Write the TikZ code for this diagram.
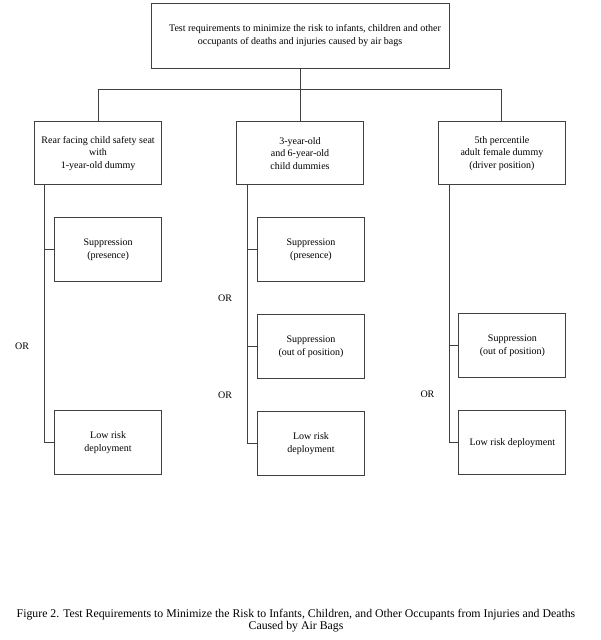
\documentclass[tikz,border=0pt]{standalone}
\usepackage{fontspec}
\setmainfont{Liberation Serif}
\usetikzlibrary{positioning, calc}

\begin{document}
\begin{tikzpicture}[x=1pt, y=1pt, node distance=32pt,
    box/.style={draw=black!75, line width=0.9pt, rectangle, align=center, inner sep=1pt, font=\fontsize{10}{12.5}\selectfont},
    goalbox/.style={box, minimum width=298pt, minimum height=65pt},
    groupbox/.style={box, minimum width=127pt, minimum height=63pt},
    testbox/.style={box, minimum width=107pt, minimum height=64pt},
    link/.style={draw=black!75, line width=0.9pt},
    orlabel/.style={font=\fontsize{10}{12}\selectfont}]
    \useasboundingbox (0,0) rectangle (600,-640);

    % --- GOAL (Top) ---
    \node (goal) [goalbox] at (300,-35.5) {\hspace*{10pt}Test requirements to minimize the risk to infants, children and other\\occupants of deaths and injuries caused by air bags};

    % --- DUMMY GROUPS ---
    \node (kids) [groupbox, below=53pt of goal] {3-year-old\\and 6-year-old\\child dummies};
    \node (infant) [groupbox, left=74pt of kids] {Rear facing child safety seat\\with\\1-year-old dummy};
    \node (adult) [groupbox, right=74pt of kids] {5th percentile\\adult female dummy\\(driver position)};

    % Tree from goal
    \coordinate (bus) at ([yshift=-21pt]goal.south);
    \draw[link] (goal.south) -- (kids.north);
    \draw[link] (infant.north) |- (bus) -| (adult.north);

    % --- TESTS (infant) ---
    \node (infantsup) [testbox, below=of infant, xshift=10pt] {Suppression\\(presence)};
    \node (infantlow) [testbox, below=128pt of infantsup] {Low risk\\deployment};

    % --- TESTS (kids) ---
    \node (kidssup) [testbox, below=of kids, xshift=11pt] {Suppression\\(presence)};
    \node (kidsoop) [testbox, below=of kidssup] {Suppression\\(out of position)};
    \node (kidslow) [testbox, below=of kidsoop] {Low risk\\deployment};

    % --- TESTS (adult) ---
    \node (adultoop) [testbox, below=128pt of adult, xshift=10.5pt] {Suppression\\(out of position)};
    \node (adultlow) [testbox, below=of adultoop] {Low risk deployment};

    % Spines
    \coordinate (infantspine) at ([xshift=10pt]infant.south west);
    \coordinate (kidsspine) at ([xshift=11pt]kids.south west);
    \coordinate (adultspine) at ([xshift=11pt]adult.south west);
    \draw[link] (infantspine) |- (infantlow.west);
    \draw[link] (infantsup.west) -- (infantsup.west -| infantspine);
    \draw[link] (kidsspine) |- (kidslow.west);
    \draw[link] (kidssup.west) -- (kidssup.west -| kidsspine);
    \draw[link] (kidsoop.west) -- (kidsoop.west -| kidsspine);
    \draw[link] (adultspine) |- (adultlow.west);
    \draw[link] (adultoop.west) -- (adultoop.west -| adultspine);

    % OR labels
    \node (infantor) [orlabel, xshift=-32pt] at ($(infantsup.west)!0.5!(infantlow.west)$) {OR};
    \node (kidsor1) [orlabel, xshift=-32pt] at ($(kidssup.west)!0.5!(kidsoop.west)$) {OR};
    \node (kidsor2) [orlabel, xshift=-32pt] at ($(kidsoop.west)!0.5!(kidslow.west)$) {OR};
    \node (adultor) [orlabel, xshift=-31pt] at ($(adultoop.west)!0.5!(adultlow.west)$) {OR};

    % Caption
    \node (caption) [align=center, font=\fontsize{11.8}{12}\selectfont] at (296,-620.5) {Figure 2. Test Requirements to Minimize the Risk to Infants, Children, and Other Occupants from Injuries and Deaths\\Caused by Air Bags};

\end{tikzpicture}
\end{document}
